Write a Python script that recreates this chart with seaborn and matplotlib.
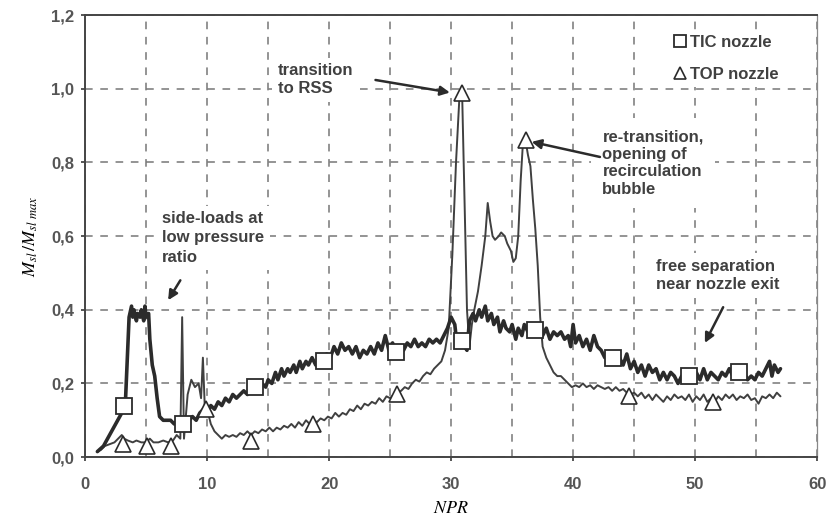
import numpy as np
import pandas as pd
import matplotlib
matplotlib.use('Agg')
import matplotlib.pyplot as plt
import seaborn as sns

# TIC nozzle trace
tic_x = [1.0, 1.5, 2.0, 2.5, 3.0, 3.3, 3.5, 3.6, 3.8, 3.9, 4.0, 4.2, 4.3, 4.5, 4.6, 4.8, 4.9, 5.0, 5.2, 5.3,
         5.5, 5.7, 5.9, 6.1, 6.4, 6.7, 7.0, 7.3, 7.6, 7.9, 8.2, 8.5, 8.8, 9.1, 9.4, 9.7, 10.0, 10.3, 10.6, 10.9,
         11.2, 11.5, 11.8, 12.1, 12.4, 12.7, 13.0, 13.3, 13.6, 13.9, 14.2, 14.5, 14.8, 15.0, 15.3, 15.6, 15.8,
         16.1, 16.3, 16.6, 16.8, 17.1, 17.3, 17.6, 17.8, 18.1, 18.3, 18.6, 18.9, 19.2, 19.5, 19.8, 20.1, 20.4,
         20.7, 21.0, 21.3, 21.6, 21.9, 22.2, 22.5, 22.8, 23.1, 23.4, 23.7, 24.0, 24.3, 24.6, 24.9, 25.2, 25.5,
         25.8, 26.1, 26.4, 26.7, 27.0, 27.3, 27.6, 27.9, 28.2, 28.5, 28.8, 29.1, 29.4, 29.7, 30.0, 30.3, 30.5,
         30.8, 31.1, 31.3, 31.5, 31.8, 32.0, 32.3, 32.5, 32.8, 33.0, 33.3, 33.5, 33.8, 34.0, 34.3, 34.5, 34.8,
         35.0, 35.3, 35.5, 35.8, 36.0, 36.3, 36.6, 36.9, 37.2, 37.5, 37.8, 38.1, 38.4, 38.7, 39.0, 39.3, 39.6,
         39.8, 40.0, 40.2, 40.5, 40.8, 41.1, 41.4, 41.7, 42.0, 42.3, 42.6, 42.9, 43.2, 43.5, 43.8, 44.1, 44.4,
         44.7, 45.0, 45.3, 45.6, 45.9, 46.2, 46.5, 46.8, 47.1, 47.4, 47.7, 48.0, 48.3, 48.6, 48.9, 49.2, 49.5,
         49.8, 50.1, 50.4, 50.7, 51.0, 51.3, 51.6, 51.9, 52.2, 52.5, 52.8, 53.1, 53.4, 53.7, 54.0, 54.3, 54.6,
         54.9, 55.2, 55.5, 55.8, 56.1, 56.3, 56.5, 56.8, 57.0]
tic_y = [0.015, 0.03, 0.06, 0.09, 0.12, 0.15, 0.30, 0.38, 0.41, 0.38, 0.40, 0.37, 0.39, 0.38, 0.40, 0.37, 0.41, 0.38, 0.39, 0.32,
         0.25, 0.22, 0.16, 0.11, 0.10, 0.10, 0.10, 0.09, 0.10, 0.09, 0.08, 0.10, 0.11, 0.10, 0.12, 0.13, 0.12, 0.14, 0.13, 0.15,
         0.14, 0.16, 0.15, 0.17, 0.16, 0.17, 0.18, 0.17, 0.19, 0.18, 0.19, 0.20, 0.19, 0.21, 0.20, 0.23, 0.21,
         0.24, 0.22, 0.24, 0.23, 0.25, 0.23, 0.26, 0.24, 0.26, 0.25, 0.27, 0.25, 0.26, 0.26, 0.28, 0.27, 0.30,
         0.28, 0.31, 0.29, 0.30, 0.28, 0.30, 0.27, 0.29, 0.28, 0.30, 0.28, 0.31, 0.29, 0.33, 0.29, 0.31, 0.28,
         0.30, 0.29, 0.31, 0.30, 0.32, 0.30, 0.31, 0.30, 0.32, 0.31, 0.32, 0.31, 0.33, 0.35, 0.38, 0.36, 0.30,
         0.31, 0.30, 0.29, 0.37, 0.39, 0.37, 0.40, 0.38, 0.41, 0.37, 0.39, 0.36, 0.38, 0.34, 0.37, 0.35, 0.34,
         0.36, 0.32, 0.35, 0.33, 0.36, 0.34, 0.35, 0.34, 0.35, 0.33, 0.35, 0.32, 0.34, 0.33, 0.34, 0.32, 0.33,
         0.30, 0.36, 0.31, 0.33, 0.30, 0.32, 0.29, 0.33, 0.30, 0.29, 0.27, 0.28, 0.27, 0.26, 0.27, 0.25, 0.28,
         0.24, 0.26, 0.23, 0.25, 0.22, 0.25, 0.23, 0.24, 0.21, 0.23, 0.21, 0.23, 0.22, 0.20, 0.22, 0.21, 0.22,
         0.21, 0.23, 0.21, 0.24, 0.21, 0.23, 0.22, 0.21, 0.23, 0.22, 0.24, 0.22, 0.23, 0.22, 0.23, 0.21, 0.22,
         0.21, 0.23, 0.22, 0.24, 0.26, 0.22, 0.25, 0.23, 0.24]

# TOP nozzle trace
top_x = [1.0, 1.3, 1.6, 2.0, 2.4, 2.7, 3.0, 3.2, 3.5, 3.9, 4.2, 4.6, 5.0, 5.3, 5.6, 6.0, 6.4, 6.8, 7.2, 7.5,
         7.8, 7.95, 8.1, 8.4, 8.7, 9.0, 9.3, 9.5, 9.65, 9.8, 10.0, 10.3, 10.6, 10.9, 11.2, 11.5, 11.8, 12.1,
         12.4, 12.7, 13.0, 13.3, 13.6, 13.9, 14.2, 14.5, 14.8, 15.1, 15.4, 15.7, 16.0, 16.3, 16.6, 16.9, 17.2,
         17.5, 17.8, 18.1, 18.4, 18.7, 19.0, 19.3, 19.6, 19.9, 20.2, 20.5, 20.8, 21.1, 21.4, 21.7, 22.0, 22.3,
         22.6, 22.9, 23.2, 23.5, 23.8, 24.1, 24.4, 24.7, 25.0, 25.3, 25.6, 25.9, 26.2, 26.5, 26.8, 27.1, 27.4,
         27.7, 28.0, 28.3, 28.6, 28.9, 29.2, 29.5, 29.8, 30.1, 30.4, 30.7, 30.9, 31.1, 31.3, 31.5, 31.7, 31.9,
         32.2, 32.5, 32.8, 33.0, 33.2, 33.4, 33.6, 33.9, 34.1, 34.4, 34.6, 34.9, 35.1, 35.3, 35.5, 35.7, 35.9,
         36.1, 36.3, 36.5, 36.7, 36.9, 37.1, 37.3, 37.5, 37.8, 38.1, 38.4, 38.7, 39.0, 39.3, 39.6, 39.9, 40.2,
         40.5, 40.8, 41.1, 41.4, 41.7, 42.0, 42.3, 42.6, 42.9, 43.2, 43.5, 43.8, 44.1, 44.4, 44.7, 45.0, 45.3,
         45.6, 45.9, 46.2, 46.5, 46.8, 47.1, 47.4, 47.7, 48.0, 48.3, 48.6, 48.9, 49.2, 49.5, 49.8, 50.1, 50.4,
         50.7, 51.0, 51.3, 51.6, 51.9, 52.2, 52.5, 52.8, 53.1, 53.4, 53.7, 54.0, 54.3, 54.6, 54.9, 55.2, 55.5,
         55.8, 56.1, 56.4, 56.7, 57.0]
top_y = [0.015, 0.02, 0.03, 0.035, 0.04, 0.05, 0.06, 0.05, 0.045, 0.04, 0.045, 0.04, 0.04, 0.05, 0.04, 0.04, 0.045, 0.04, 0.045, 0.06,
         0.05, 0.38, 0.05, 0.17, 0.21, 0.19, 0.20, 0.16, 0.27, 0.14, 0.13, 0.09, 0.07, 0.06, 0.05, 0.06, 0.055, 0.06,
         0.055, 0.065, 0.06, 0.07, 0.06, 0.07, 0.065, 0.075, 0.07, 0.08, 0.07, 0.08, 0.075, 0.085, 0.08, 0.09, 0.08,
         0.095, 0.085, 0.10, 0.09, 0.10, 0.095, 0.105, 0.10, 0.11, 0.105, 0.12, 0.11, 0.12, 0.115, 0.13, 0.125, 0.14,
         0.13, 0.145, 0.14, 0.15, 0.145, 0.16, 0.15, 0.165, 0.16, 0.17, 0.175, 0.18, 0.19, 0.185, 0.20, 0.21, 0.205,
         0.22, 0.23, 0.225, 0.24, 0.25, 0.26, 0.29, 0.35, 0.55, 0.80, 0.99, 0.99, 0.70, 0.40, 0.30, 0.36, 0.40,
         0.45, 0.52, 0.60, 0.69, 0.64, 0.60, 0.59, 0.60, 0.61, 0.60, 0.58, 0.56, 0.53, 0.54, 0.60, 0.75, 0.86,
         0.86, 0.82, 0.79, 0.70, 0.62, 0.52, 0.38, 0.30, 0.27, 0.25, 0.23, 0.22, 0.22, 0.21, 0.20, 0.19, 0.195,
         0.19, 0.20, 0.19, 0.195, 0.185, 0.195, 0.19, 0.185, 0.19, 0.18, 0.19, 0.18, 0.185, 0.175, 0.17, 0.175, 0.165,
         0.175, 0.16, 0.17, 0.155, 0.17, 0.16, 0.15, 0.165, 0.155, 0.17, 0.16, 0.165, 0.155, 0.17, 0.15, 0.165, 0.155,
         0.17, 0.15, 0.16, 0.15, 0.165, 0.155, 0.17, 0.16, 0.17, 0.155, 0.165, 0.16, 0.17, 0.155, 0.16, 0.145, 0.165,
         0.16, 0.17, 0.16, 0.175, 0.165]

# symbol positions
tic_mx = [3.2, 8.0, 13.9, 19.6, 25.5, 30.9, 36.9, 43.3, 49.5, 53.6]
tic_my = [0.14, 0.09, 0.19, 0.26, 0.285, 0.315, 0.345, 0.27, 0.22, 0.23]
top_mx = [3.1, 5.1, 7.0, 9.9, 13.6, 18.7, 25.6, 30.9, 36.1, 44.6, 51.5]
top_my = [0.035, 0.03, 0.03, 0.13, 0.045, 0.09, 0.17, 0.99, 0.86, 0.165, 0.15]

sns.set_theme(style='ticks')
plt.rcParams['font.family'] = ['Liberation Sans', 'DejaVu Sans']
plt.rcParams['mathtext.fontset'] = 'stix'

ink = '#2b2b2b'
txt = '#404040'
fs = 12

fig, ax = plt.subplots(figsize=(8.27, 5.23), dpi=100)
fig.subplots_adjust(left=0.103, right=0.988, top=0.971, bottom=0.126)

tic = pd.DataFrame({'NPR': tic_x, 'M': tic_y})
top = pd.DataFrame({'NPR': top_x, 'M': top_y})
sns.lineplot(data=top, x='NPR', y='M', ax=ax, color='#404040', lw=1.4, estimator=None, sort=False, zorder=3)
sns.lineplot(data=tic, x='NPR', y='M', ax=ax, color=ink, lw=2.6, estimator=None, sort=False, zorder=4)

ax.plot(tic_mx, tic_my, ls='none', marker='s', ms=11.5, mfc='white', mec=ink, mew=1.3, zorder=5, label='TIC nozzle')
ax.plot(top_mx, top_my, ls='none', marker='^', ms=11.5, mfc='white', mec=ink, mew=1.2, zorder=5, label='TOP nozzle')

ax.set_xlim(0, 60)
ax.set_ylim(0, 1.2)
ax.set_xticks(range(0, 61, 10))
ax.set_xticks(range(5, 60, 10), minor=True)
ax.set_yticks(np.arange(0, 1.21, 0.2))
ax.set_yticklabels([f'{v:.1f}'.replace('.', ',') for v in np.arange(0, 1.21, 0.2)])
ax.grid(True, which='both', axis='x', ls=(0, (5, 5)), color='#777777', lw=1.1)
ax.grid(True, which='major', axis='y', ls=(0, (5, 5)), color='#777777', lw=1.1)
ax.tick_params(axis='both', which='major', length=3, color=txt, labelsize=fs, labelcolor='#555555')
ax.tick_params(axis='y', which='major', pad=5)
ax.tick_params(axis='x', which='major', pad=11)
ax.tick_params(axis='x', which='minor', length=0)
for lab in ax.get_xticklabels() + ax.get_yticklabels():
    lab.set_fontweight('bold')
for s in ax.spines.values():
    s.set_visible(True)
    s.set_color('#444444')
    s.set_linewidth(1.4)
ax.spines['right'].set_linewidth(0.9)
ax.spines['right'].set_color('#888888')

ax.set_xlabel('$NPR$', fontsize=13, labelpad=6, color='black')
ax.set_ylabel(r'$M_{sl}\,/M_{sl\ max}$', fontsize=13, labelpad=8, color='black')

leg = ax.legend(loc='upper right', bbox_to_anchor=(0.965, 0.985), frameon=True, facecolor='white',
                edgecolor='none', framealpha=1, fancybox=False,
                prop={'size': fs, 'weight': 'bold'}, handletextpad=0.1, labelspacing=1.0,
                borderpad=0.3, markerscale=0.75, handlelength=1.0, labelcolor=txt)

# white patches behind the notes, as in the original
box = dict(facecolor='white', edgecolor='none', pad=4)
arrow = dict(arrowstyle='-|>', color=ink, lw=1.8, mutation_scale=14, shrinkA=0, shrinkB=0)
kw = dict(fontsize=fs, fontweight='bold', color=txt, ha='left', va='center', zorder=2.5)
ax.text(15.8, 1.024, 'transition\nto RSS', linespacing=1.25, bbox=box, **kw)
ax.annotate('', xy=(29.9, 0.99), xytext=(23.8, 1.024), arrowprops=arrow, zorder=6)
ax.text(42.4, 0.798, 're-transition,\nopening of\nrecirculation\nbubble', linespacing=1.2,
        bbox=dict(facecolor='white', edgecolor='none', pad=8), **kw)
ax.annotate('', xy=(36.6, 0.856), xytext=(42.2, 0.815), arrowprops=arrow, zorder=6)
ax.text(6.3, 0.595, 'side-loads at\nlow pressure\nratio', linespacing=1.35, bbox=box, **kw)
ax.annotate('', xy=(6.8, 0.426), xytext=(7.8, 0.48), arrowprops=arrow, zorder=6)
ax.text(46.8, 0.493, 'free separation\nnear nozzle exit', linespacing=1.3, bbox=box, **kw)
ax.annotate('', xy=(50.8, 0.31), xytext=(52.3, 0.407), arrowprops=arrow, zorder=6)

fig.savefig('out.png', dpi=100)
